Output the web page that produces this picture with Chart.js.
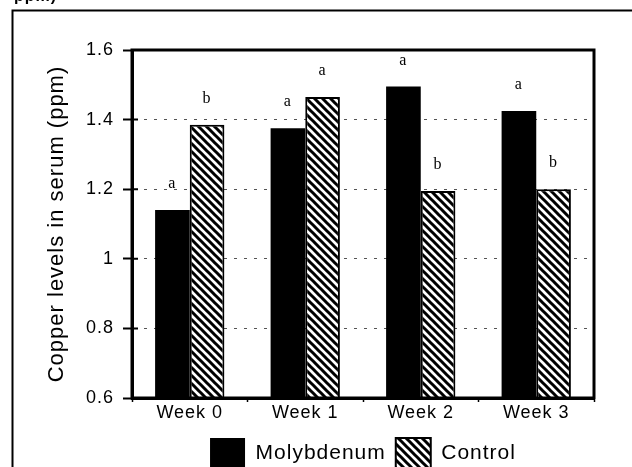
<!DOCTYPE html>
<html>
<head>
<meta charset="utf-8">
<script src="https://cdn.jsdelivr.net/npm/chart.js@4.4.1/dist/chart.umd.min.js"></script>
<style>
  html, body { margin: 0; padding: 0; background: #fff; overflow: hidden; }
  canvas { display: block; }
</style>
</head>
<body>
<canvas id="copperChart" width="632" height="478"></canvas>
<script>
const weeks = ['Week 0', 'Week 1', 'Week 2', 'Week 3'];
const molybdenum = [1.14, 1.375, 1.495, 1.425];
const control = [1.385, 1.465, 1.195, 1.2];
const molyLetters = ['a', 'a', 'a', 'a'];
const controlLetters = ['b', 'a', 'b', 'b'];
const yTicks = [0.6, 0.8, 1, 1.2, 1.4, 1.6];

const canvas = document.getElementById('copperChart');

// diagonal hatch used by the control bars
const makeHatch = () => {
  const tile = document.createElement('canvas');
  tile.width = 8;
  tile.height = 8;
  const t = tile.getContext('2d');
  t.fillStyle = '#fff';
  t.fillRect(0, 0, 8, 8);
  t.strokeStyle = '#000';
  t.lineWidth = 3;
  t.beginPath();
  for (const c of [-8, 0, 8]) {
    t.moveTo(c - 2, -2);
    t.lineTo(c + 10, 10);
  }
  t.stroke();
  return canvas.getContext('2d').createPattern(tile, 'repeat');
};

const pageFrame = {
  id: 'pageFrame',
  beforeUpdate(chart) {
    chart.ctx.letterSpacing = '1px';
  },
  beforeDraw(chart) {
    const ctx = chart.ctx;
    ctx.save();
    ctx.fillStyle = '#fff';
    ctx.fillRect(0, 0, chart.width, chart.height);
    ctx.strokeStyle = '#000';
    ctx.lineWidth = 2;
    ctx.beginPath();
    ctx.moveTo(12.5, chart.height);
    ctx.lineTo(12.5, 10.5);
    ctx.lineTo(chart.width, 10.5);
    ctx.stroke();
    ctx.fillStyle = '#000';
    ctx.font = 'bold 16px "Liberation Sans", Arial, sans-serif';
    ctx.fillText('ppm)', 14, -3);
    ctx.restore();
  }
};

const plotBox = {
  id: 'plotBox',
  afterDatasetsDraw(chart) {
    const { ctx, chartArea: a, scales: { y } } = chart;
    ctx.save();
    ctx.strokeStyle = '#000';
    ctx.lineWidth = 3;
    ctx.strokeRect(a.left, a.top, a.right - a.left, a.bottom - a.top);
    // major ticks cross the axis line
    ctx.lineWidth = 2;
    ctx.beginPath();
    yTicks.forEach(v => {
      const py = y.getPixelForValue(v);
      ctx.moveTo(a.left, py);
      ctx.lineTo(a.left + 6, py);
    });
    ctx.stroke();
    // letters over each bar
    ctx.font = '16px "Liberation Serif", "Times New Roman", serif';
    ctx.textAlign = 'center';
    ctx.textBaseline = 'alphabetic';
    ctx.fillStyle = '#000';
    [molyLetters, controlLetters].forEach((letters, di) => {
      chart.getDatasetMeta(di).data.forEach((bar, i) => {
        ctx.fillText(letters[i], bar.x, bar.y - 22);
      });
    });
    ctx.restore();
  }
};

Chart.defaults.font.family = '"Liberation Sans", Arial, sans-serif';
Chart.defaults.color = '#000';

new Chart(canvas, {
  type: 'bar',
  data: {
    labels: weeks,
    datasets: [
      {
        label: 'Molybdenum',
        data: molybdenum,
        backgroundColor: '#000',
        borderWidth: 0
      },
      {
        label: 'Control',
        data: control,
        backgroundColor: makeHatch(),
        borderColor: '#000',
        borderWidth: 2
      }
    ]
  },
  options: {
    responsive: false,
    animation: false,
    events: [],
    devicePixelRatio: 1,
    categoryPercentage: 0.6,
    barPercentage: 1,
    layout: { padding: { left: 13, right: 38, top: 50, bottom: 0 } },
    plugins: {
      tooltip: { enabled: false },
      legend: {
        position: 'bottom',
        fullSize: false,
        labels: {
          boxWidth: 35,
          boxHeight: 30,
          padding: 10,
          color: '#000',
          font: { size: 21 }
        }
      }
    },
    scales: {
      x: {
        grid: {
          drawOnChartArea: false,
          tickLength: 4,
          tickColor: '#000',
          tickWidth: 1.5,
          offset: true
        },
        border: { color: '#000', width: 3 },
        ticks: { color: '#000', padding: 0, maxRotation: 0, font: { size: 18 } },
        afterFit: s => { s.height = 30; }
      },
      y: {
        min: 0.6,
        max: 1.6,
        afterBuildTicks: s => { s.ticks = yTicks.map(v => ({ value: v })); },
        afterFit: s => { s.width = 119; },
        grid: {
          color: c => (c.tick && (c.tick.value === 0.6 || c.tick.value === 1.6)) ? 'rgba(0,0,0,0)' : '#555',
          lineWidth: 1,
          tickLength: 9,
          tickColor: '#000',
          tickWidth: 2
        },
        border: { color: '#000', width: 3, dash: [3, 7] },
        ticks: {
          color: '#000',
          padding: 9,
          font: { size: 18 },
          callback: v => String(v)
        },
        title: {
          display: true,
          text: 'Copper levels in serum (ppm)',
          color: '#000',
          font: { size: 22 },
          padding: { top: 31 }
        }
      }
    }
  },
  plugins: [pageFrame, plotBox]
});
</script>
</body>
</html>
